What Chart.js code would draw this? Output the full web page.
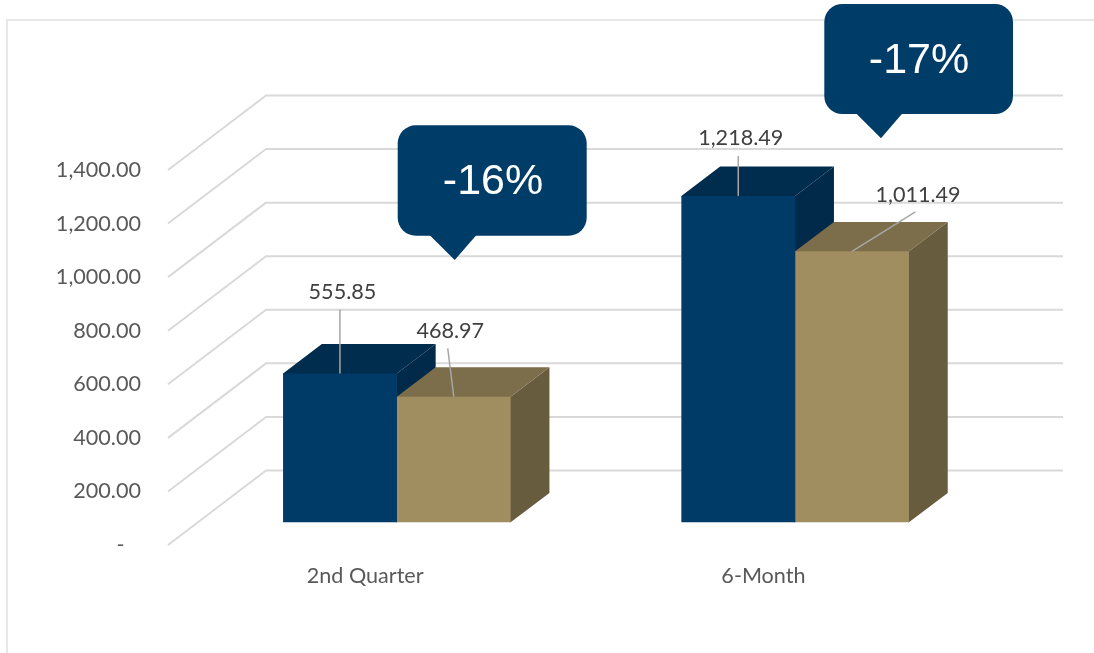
<!DOCTYPE html>
<html>
<head>
<meta charset="utf-8">
<title>Quarterly and six-month comparison</title>
<style>
  html, body { margin: 0; padding: 0; background: #ffffff; }
  canvas { display: block; }
</style>
<script src="https://cdn.jsdelivr.net/npm/chart.js@4/dist/chart.umd.min.js"></script>
</head>
<body>
<canvas id="chart" width="1094" height="653"></canvas>
<script>
// Chart values
const categories = ['2nd Quarter', '6-Month'];
const priorValues = [555.85, 1218.49];
const currentValues = [468.97, 1011.49];
const changeLabels = ['-16%', '-17%'];
const axisTicks = [0, 200, 400, 600, 800, 1000, 1200, 1400];

// Perspective of the floor and of the bar solids, in pixels
const WALL_DX = 98, WALL_DY = -74.5, WALL_RIGHT = 1063;
const BAR_SHIFT_X = 29.7, BAR_SHIFT_Y = -22.7;
const BAR_DEPTH_X = 38.8, BAR_DEPTH_Y = -29.4;
const FACE_OVERLAP = 0.7;

const palette = [
  { front: '#003a66', top: '#002c4e', side: '#00294a' },
  { front: '#a08d60', top: '#7c6e4b', side: '#675c3e' }
];

// Leader and label offsets from the top centre of each front face: [dataset][category]
const leaders = [
  [{ lx: 2.5, ly: -81, sx: 0, sy: -64 }, { lx: 2.5, ly: -58, sx: 0, sy: -40 }],
  [{ lx: -3.5, ly: -66, sx: -6, sy: -48.4 }, { lx: 66, ly: -56, sx: 63.3, sy: -39.6 }]
];

// Speech-bubble boxes carrying the percentage change per category
const bubbles = [
  { x: 397.7, y: 125.3, w: 189, h: 110.4, tailL: 429.3, tailTip: 454.7, tailR: 476.7, tipY: 260, textX: 493, textY: 182.5 },
  { x: 824.3, y: 4, w: 188.7, h: 110, tailL: 855.7, tailTip: 881, tailR: 902.7, tipY: 138.3, textX: 919, textY: 61 }
];

const LABEL_FONT = { family: 'Lato', size: 21.6 };
const formatNumber = v => v.toLocaleString('en-US', { minimumFractionDigits: 2, maximumFractionDigits: 2 });

// The faces run slightly under the front face so no seam shows along shared edges
function drawSolidFaces(ctx, bar, colors) {
  const left = bar.x - bar.width / 2, right = bar.x + bar.width / 2;
  const top = bar.y, base = bar.base;
  ctx.fillStyle = colors.side;
  ctx.beginPath();
  ctx.moveTo(right - FACE_OVERLAP, top);
  ctx.lineTo(right, top);
  ctx.lineTo(right + BAR_DEPTH_X, top + BAR_DEPTH_Y);
  ctx.lineTo(right + BAR_DEPTH_X, base + BAR_DEPTH_Y);
  ctx.lineTo(right, base);
  ctx.lineTo(right - FACE_OVERLAP, base);
  ctx.closePath();
  ctx.fill();
  ctx.fillStyle = colors.top;
  ctx.beginPath();
  ctx.moveTo(left, top + FACE_OVERLAP);
  ctx.lineTo(left, top);
  ctx.lineTo(left + BAR_DEPTH_X, top + BAR_DEPTH_Y);
  ctx.lineTo(right + BAR_DEPTH_X, top + BAR_DEPTH_Y);
  ctx.lineTo(right, top);
  ctx.lineTo(right, top + FACE_OVERLAP);
  ctx.closePath();
  ctx.fill();
}

const perspectivePlugin = {
  id: 'perspective',
  beforeDraw(chart) {
    const { ctx } = chart;
    ctx.save();
    ctx.strokeStyle = '#e8e8e8';
    ctx.lineWidth = 2;
    ctx.beginPath();
    ctx.moveTo(7, 653);
    ctx.lineTo(7, 20);
    ctx.lineTo(1094, 20);
    ctx.stroke();
    ctx.restore();
  },
  beforeDatasetsDraw(chart) {
    const { ctx, scales } = chart;
    ctx.save();
    // Gridlines run up the side wall and then across the back wall
    ctx.strokeStyle = '#d9d9d9';
    ctx.lineWidth = 2;
    ctx.lineJoin = 'round';
    axisTicks.forEach(t => {
      const y = scales.y.getPixelForValue(t);
      ctx.beginPath();
      ctx.moveTo(scales.x.left, y);
      ctx.lineTo(scales.x.left + WALL_DX, y + WALL_DY);
      ctx.lineTo(WALL_RIGHT, y + WALL_DY);
      ctx.stroke();
    });
    // Top and side faces sit behind every front face; the gold solids overlap the blue ones
    ctx.translate(BAR_SHIFT_X, BAR_SHIFT_Y);
    chart.data.datasets.forEach((ds, index) => {
      chart.getDatasetMeta(index).data.forEach(bar => drawSolidFaces(ctx, bar, palette[index]));
    });
    ctx.restore();
  },
  beforeDatasetDraw(chart) {
    chart.ctx.save();
    chart.ctx.translate(BAR_SHIFT_X, BAR_SHIFT_Y);
  },
  afterDatasetDraw(chart) {
    chart.ctx.restore();
  },
  afterDatasetsDraw(chart) {
    const { ctx } = chart;
    ctx.save();
    // Value labels with leader lines
    chart.data.datasets.forEach((ds, index) => {
      chart.getDatasetMeta(index).data.forEach((bar, i) => {
        const off = leaders[index][i];
        const ax = bar.x + BAR_SHIFT_X, ay = bar.y + BAR_SHIFT_Y;
        ctx.strokeStyle = '#a6a6a6';
        ctx.lineWidth = 1.5;
        ctx.beginPath();
        ctx.moveTo(ax + off.sx, ay + off.sy);
        ctx.lineTo(ax, ay);
        ctx.stroke();
        ctx.fillStyle = '#404040';
        ctx.font = LABEL_FONT.size + 'px ' + LABEL_FONT.family;
        ctx.textAlign = 'center';
        ctx.textBaseline = 'middle';
        ctx.fillText(formatNumber(ds.data[i]), ax + off.lx, ay + off.ly);
      });
    });
    // Percentage-change bubbles
    bubbles.forEach((b, i) => {
      ctx.fillStyle = '#003c68';
      ctx.beginPath();
      ctx.roundRect(b.x, b.y, b.w, b.h, 18);
      ctx.fill();
      ctx.beginPath();
      ctx.moveTo(b.tailL, b.y + b.h - 1);
      ctx.lineTo(b.tailTip, b.tipY);
      ctx.lineTo(b.tailR, b.y + b.h - 1);
      ctx.closePath();
      ctx.fill();
      ctx.fillStyle = '#ffffff';
      ctx.font = '43px "Liberation Sans"';
      ctx.textAlign = 'center';
      ctx.textBaseline = 'middle';
      ctx.fillText(changeLabels[i], b.textX, b.textY);
    });
    ctx.restore();
  }
};

new Chart(document.getElementById('chart'), {
  type: 'bar',
  data: {
    labels: categories,
    datasets: [
      { label: 'Prior period', data: priorValues, backgroundColor: palette[0].front, clip: false },
      { label: 'Current period', data: currentValues, backgroundColor: palette[1].front, clip: false }
    ]
  },
  options: {
    responsive: false,
    animation: false,
    layout: { padding: { top: 170, right: 129.4, left: 0, bottom: 0 } },
    plugins: { legend: { display: false }, tooltip: { enabled: false } },
    datasets: { bar: { categoryPercentage: 0.5714, barPercentage: 1 } },
    scales: {
      x: {
        grid: { display: false, drawTicks: false },
        border: { display: false },
        ticks: { color: '#595959', font: LABEL_FONT, padding: 18, labelOffset: -2, maxRotation: 0 },
        afterFit(scale) { scale.height = 108; }
      },
      y: {
        min: 0,
        max: 1400,
        grid: { display: false, drawTicks: false },
        border: { display: false },
        afterBuildTicks(scale) { scale.ticks = axisTicks.map(value => ({ value })); },
        ticks: {
          color: '#595959',
          font: LABEL_FONT,
          padding: 27,
          callback: v => (v === 0 ? '-   ' : formatNumber(v))
        },
        afterFit(scale) { scale.width = 168; }
      }
    }
  },
  plugins: [perspectivePlugin]
});
</script>
</body>
</html>
